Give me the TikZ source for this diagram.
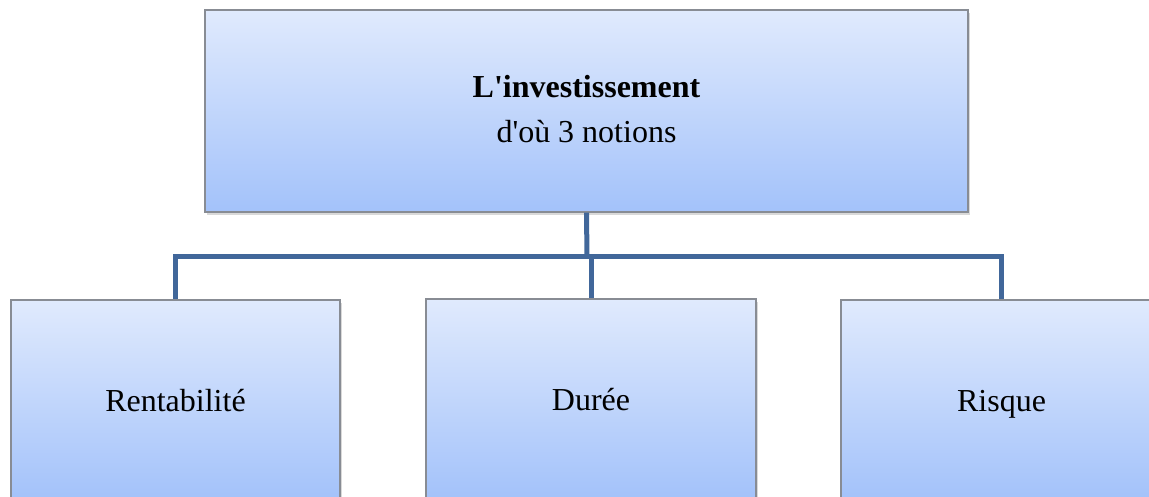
\documentclass[tikz,border=0pt]{standalone}
\usepackage{fontspec}
\setmainfont{Liberation Serif}[Ligatures=TeXOff]
\usetikzlibrary{shadows}
\definecolor{boxtop}{HTML}{E0EAFD}
\definecolor{boxbot}{HTML}{A3C2FA}
\definecolor{boxline}{HTML}{888C94}
\definecolor{conncol}{HTML}{41679A}
\tikzset{
  orgbox/.style={draw=boxline, line width=1.3pt, top color=boxtop, bottom color=boxbot,
    drop shadow={opacity=0.3, shadow xshift=2pt, shadow yshift=-3pt},
    font=\fontsize{32}{45}\selectfont, align=center, inner sep=0pt},
  leafbox/.style={orgbox, minimum height=200pt, text height=22pt, text depth=0pt},
  conn/.style={draw=conncol, line width=5pt}
}
\begin{document}
\begin{tikzpicture}[x=1pt,y=-1pt]
\useasboundingbox (0,0) rectangle (1149,497);
\clip (0,0) rectangle (1149,497);
\coordinate (j) at (587,257);
\node[orgbox, minimum width=763pt, minimum height=202pt] (top) at (586.5,111)
  {\begin{tabular}{@{}c@{}}\textbf{L'investissement}\\ d'où 3 notions\end{tabular}};
\node[leafbox, minimum width=329pt] (l) at (175.5,400) {Rentabilité};
\node[leafbox, minimum width=330pt] (m) at (591,399) {Durée};
\node[leafbox, minimum width=321pt] (r) at (1001.5,400) {Risque};
\draw[conn] (top.south) -- (j);
\draw[conn] (j) -| (l.north);
\draw[conn] (j) -| (m.north);
\draw[conn] (j) -| (r.north);
\end{tikzpicture}
\end{document}
